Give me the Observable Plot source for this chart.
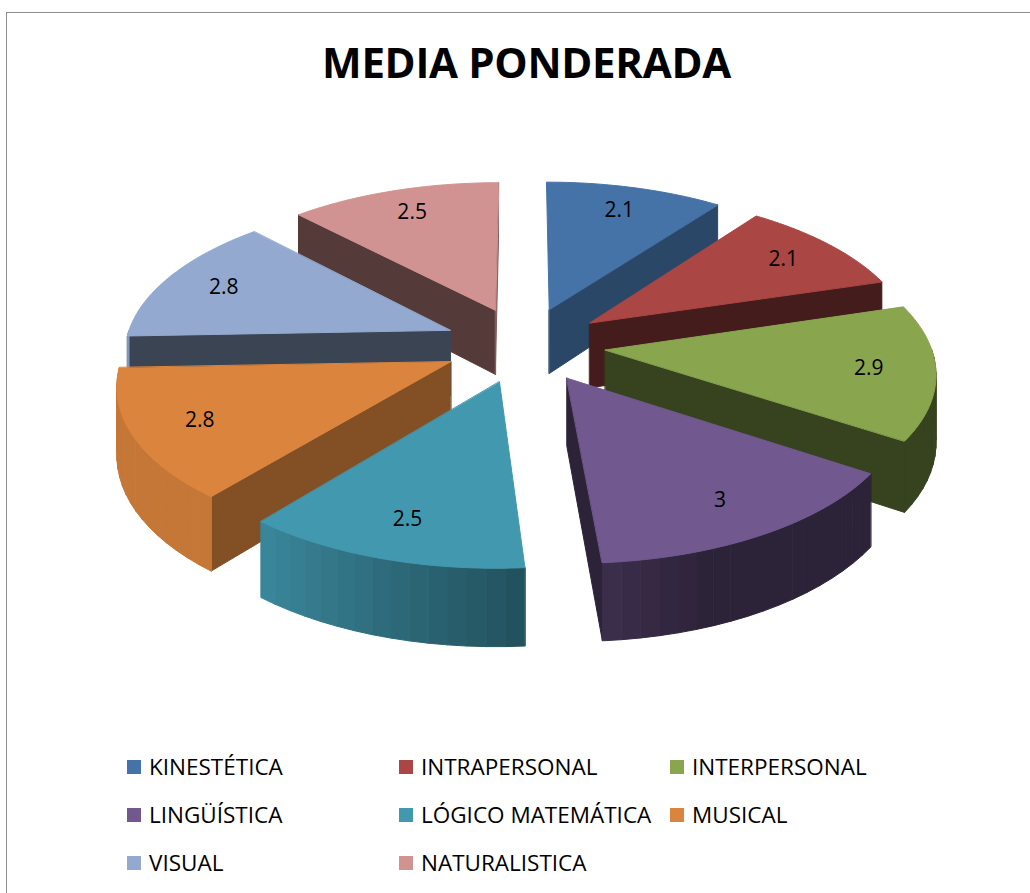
<!DOCTYPE html>
<html>
<head>
<meta charset="utf-8">
<script src="https://cdn.jsdelivr.net/npm/d3@7"></script>
<script src="https://cdn.jsdelivr.net/npm/@observablehq/plot@0.6"></script>
<style>
  body { margin: 0; background: #fff; font-family: "Open Sans", sans-serif; }
  #frame { position: absolute; left: 6px; top: 12px; width: 1040px; height: 900px; border: 1.5px solid #8e8e8e; box-sizing: border-box; }
  #title { position: absolute; left: 0; width: 1053px; top: 41px; text-align: center; font-weight: 700; font-size: 42px; line-height: 42px; color: #000; letter-spacing: -0.3px; }
  #chart { position: absolute; left: 0; top: 100px; }
  .leg { position: absolute; display: flex; align-items: center; height: 22px; }
  .leg .sw { width: 14px; height: 14px; margin-right: 8px; }
  .leg span { font-size: 22.5px; line-height: 22px; color: #000; white-space: nowrap; }
</style>
</head>
<body>
<div id="frame"></div>
<div id="title">MEDIA PONDERADA</div>
<div id="chart"></div>
<div id="legend"></div>
<script>
// ---- data ----
const categories = ["KINESTÉTICA", "INTRAPERSONAL", "INTERPERSONAL", "LINGÜÍSTICA", "LÓGICO MATEMÁTICA", "MUSICAL", "VISUAL", "NATURALISTICA"];
const values = [2.1, 2.1, 2.9, 3, 2.5, 2.8, 2.8, 2.5];
const labels = ["2.1", "2.1", "2.9", "3", "2.5", "2.8", "2.8", "2.5"];

// ---- style ----
const palette = ["#4572a7", "#aa4643", "#89a54e", "#71588f", "#4198af", "#db843d", "#93a9cf", "#d19392"];

// ---- 3D perspective projection of the exploded pie ----
const SVG_TOP = 100, SVG_H = 600, W = 1030;
const CX = 524, CY = 344, A = 325, B = 152, Q = 0.128, T = 66, EXPL = 0.25;
function proj(u, v, h) {
  const d = 1 + Q * v;
  return [CX + A * u / d, CY + (-B * v + T * h) / d];
}
function shade(col, f) {
  const c = d3.rgb(col);
  return d3.rgb(c.r * f, c.g * f, c.b * f).formatHex();
}
const clamp = (x, a, b) => Math.max(a, Math.min(b, x));
const deg = r => ((r * 180 / Math.PI) % 360 + 360) % 360;

const arcs = d3.pie().sort(null).value(d => d)(values);
const slices = arcs.map((a, i) => {
  const m = (a.startAngle + a.endAngle) / 2;
  return {i, s: a.startAngle, t: a.endAngle, m, ox: EXPL * Math.sin(m), oy: EXPL * Math.cos(m)};
});

const polys = [];
let pid = 0;
function addPoly(pts, fill) {
  const id = pid++;
  for (const [x, y] of pts) polys.push({id, x, y, fill});
}
function pt(sl, ang, r, h) {
  return proj(sl.ox + r * Math.sin(ang), sl.oy + r * Math.cos(ang), h);
}

const order = slices.slice().sort((a, b) => Math.cos(b.m) - Math.cos(a.m));
for (const sl of order) {
  const col = palette[sl.i];
  // radial faces
  const faces = [[sl.s, sl.s - Math.PI / 2], [sl.t, sl.t + Math.PI / 2]];
  for (const [ang, nrm] of faces) {
    if (Math.cos(nrm) < 0) {
      const n = deg(nrm);
      const f = 0.4 + 0.24 * clamp((150 - n) / 25, 0, 1);
      addPoly([pt(sl, ang, 0, 0), pt(sl, ang, 1, 0), pt(sl, ang, 1, 1), pt(sl, ang, 0, 1)], shade(col, f));
    }
  }
  // outer curved wall (front half), in bands with a light-from-the-left shading
  const a0 = Math.max(sl.s, Math.PI / 2), a1 = Math.min(sl.t, 3 * Math.PI / 2);
  if (a1 > a0) {
    const n = Math.max(2, Math.ceil((a1 - a0) / (Math.PI / 60)));
    for (let k = 0; k < n; k++) {
      const b0 = a0 + (a1 - a0) * k / n, b1 = a0 + (a1 - a0) * (k + 1) / n;
      const th = deg((b0 + b1) / 2);
      const f = 0.4 + 0.5 * clamp((th - 160) / 60, 0, 1);
      addPoly([pt(sl, b0, 1, 0), pt(sl, b1, 1, 0), pt(sl, b1, 1, 1), pt(sl, b0, 1, 1)], shade(col, f));
    }
  }
  // top face
  const top = [pt(sl, 0, 0, 0)];
  const steps = 60;
  for (let k = 0; k <= steps; k++) top.push(pt(sl, sl.s + (sl.t - sl.s) * k / steps, 1, 0));
  addPoly(top, col);
}

const labelRows = slices.map(sl => {
  const [x, y] = pt(sl, sl.m, 0.8, 0);
  return {x, y, text: labels[sl.i]};
});

const plot = Plot.plot({
  width: W,
  height: SVG_H,
  margin: 0,
  x: {domain: [0, W], range: [0, W], axis: null},
  y: {domain: [SVG_TOP, SVG_TOP + SVG_H], range: [0, SVG_H], axis: null},
  color: {type: "identity"},
  style: {fontFamily: "'Open Sans', sans-serif", background: "transparent", overflow: "visible"},
  marks: [
    Plot.line(polys, {x: "x", y: "y", z: "id", fill: "fill", stroke: "fill", strokeWidth: 1, curve: "linear-closed"}),
    Plot.text(labelRows, {x: "x", y: "y", text: "text", fontSize: 21, fill: "#000"})
  ]
});
document.getElementById("chart").appendChild(plot);

// ---- legend ----
const colX = [127, 399, 670];
const rowY = [767, 815, 863];
const legend = document.getElementById("legend");
categories.forEach((c, i) => {
  const d = document.createElement("div");
  d.className = "leg";
  d.style.left = colX[i % 3] + "px";
  d.style.top = (rowY[Math.floor(i / 3)] - 11) + "px";
  const sw = document.createElement("div");
  sw.className = "sw";
  sw.style.background = palette[i];
  const sp = document.createElement("span");
  sp.textContent = c;
  d.appendChild(sw);
  d.appendChild(sp);
  legend.appendChild(d);
});
</script>
</body>
</html>
